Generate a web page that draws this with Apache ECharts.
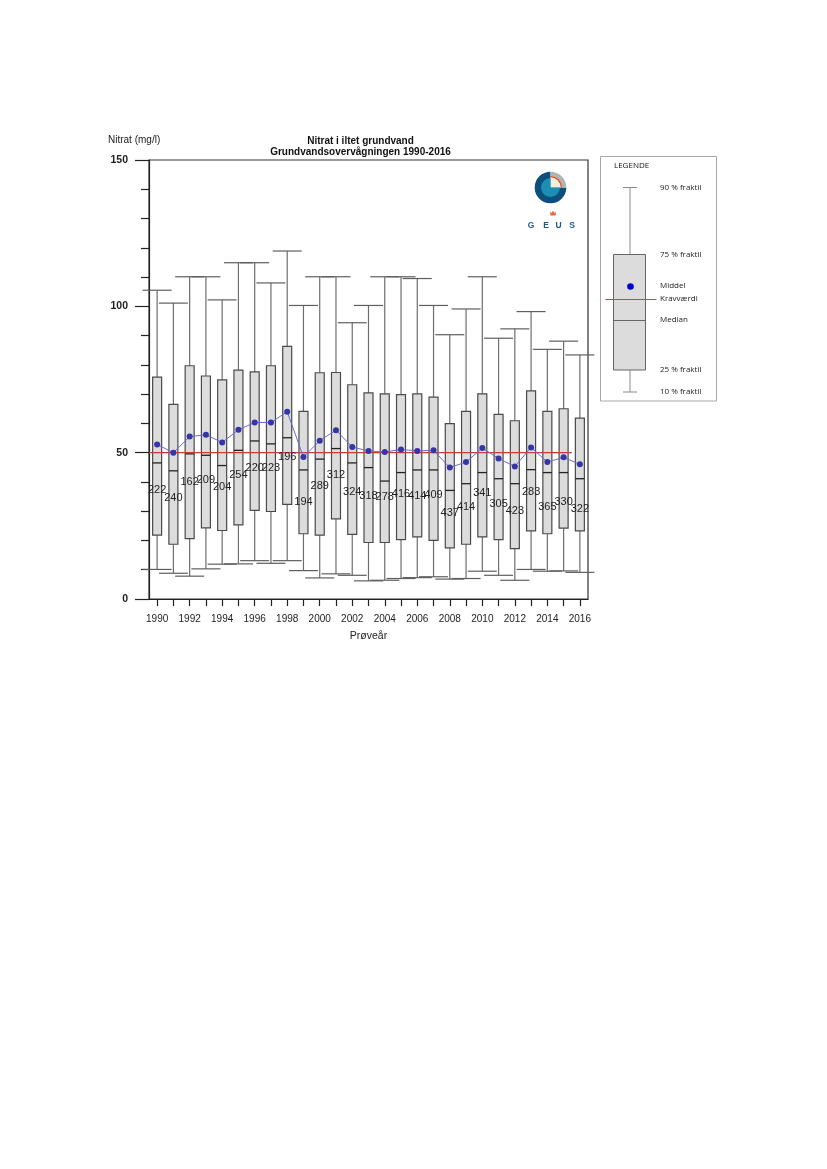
<!DOCTYPE html>
<html>
<head>
<meta charset="utf-8">
<script src="https://cdn.jsdelivr.net/npm/echarts@6/dist/echarts.min.js"></script>
<style>
  html, body { margin: 0; padding: 0; background: #fff; }
  #chart { width: 827px; height: 1169px; }
</style>
</head>
<body>
<div id="chart"></div>
<script>
// ---- Data ----
const years = ['1990','1991','1992','1993','1994','1995','1996','1997','1998','1999','2000','2001','2002','2003','2004','2005','2006','2007','2008','2009','2010','2011','2012','2013','2014','2015','2016'];
const p90 = [105.5,101.1,110.1,110.1,102.2,114.9,114.9,108.0,118.9,100.3,110.1,110.1,94.4,100.3,110.1,110.1,109.5,100.3,90.3,99.1,110.1,89.1,92.3,98.2,85.3,88.1,83.4];
const p75 = [75.8,66.5,79.7,76.2,74.9,78.2,77.6,79.7,86.3,64.1,77.3,77.4,73.2,70.4,70.1,69.8,70.1,69.0,59.9,64.1,70.1,63.1,60.9,71.1,64.1,65.0,61.8];
const median = [46.5,43.8,49.6,49.1,45.6,50.8,54.0,53.0,55.1,44.1,47.8,51.4,46.5,44.9,40.3,43.2,44.1,44.1,37.1,39.4,43.2,41.1,39.4,44.2,43.2,43.2,41.1];
const p25 = [21.8,18.7,20.6,24.3,23.4,25.3,30.3,29.9,32.3,22.3,21.8,27.4,22.1,19.3,19.3,20.3,21.2,20.0,17.5,18.7,21.2,20.3,17.2,23.3,22.3,24.2,23.3];
const p10 = [10.1,8.8,7.8,10.3,11.9,12.0,13.1,12.2,13.1,9.7,7.2,8.6,8.1,6.2,6.4,7.0,7.3,7.6,6.8,7.0,9.5,8.1,6.4,10.1,9.5,9.6,9.1];
const mean = [52.8,50.0,55.5,56.1,53.5,57.8,60.3,60.3,64.0,48.5,54.1,57.7,51.9,50.6,50.2,51.1,50.6,50.8,44.9,46.8,51.6,48.0,45.3,51.8,46.8,48.4,46.0];
const counts = [222,240,162,209,204,254,220,223,196,194,289,312,324,318,278,416,414,409,437,414,341,305,423,283,365,330,322];
const kravvaerdi = 50;
const yTicks = [0, 50, 100, 150];
const titleLines = ['Nitrat i iltet grundvand', 'Grundvandsovervågningen 1990-2016'];
const legendLabels = ['90 % fraktil','75 % fraktil','Middel','Kravværdi','Median','25 % fraktil','10 % fraktil'];

const FONT = 'Liberation Sans, Arial, sans-serif';
const chart = echarts.init(document.getElementById('chart'), null, { renderer: 'canvas' });

const boxData = years.map((y, i) => [i, p10[i], p25[i], median[i], p75[i], p90[i]]);

function renderBox(params, api) {
  const i = api.value(0);
  const x = api.coord([i, 0])[0];
  const Y = v => api.coord([i, v])[1];
  const bw = 9, cw = 29;
  const wStyle = { stroke: '#6e6e6e', lineWidth: 1.2 };
  const yp10 = Y(api.value(1)), yq1 = Y(api.value(2)), ymed = Y(api.value(3)), yq3 = Y(api.value(4)), yp90 = Y(api.value(5));
  return {
    type: 'group',
    children: [
      { type: 'line', shape: { x1: x, y1: yq3, x2: x, y2: yp90 }, style: wStyle },
      { type: 'line', shape: { x1: x, y1: yq1, x2: x, y2: yp10 }, style: wStyle },
      { type: 'line', shape: { x1: x - cw / 2, y1: yp90, x2: x + cw / 2, y2: yp90 }, style: { stroke: '#5e5e5e', lineWidth: 1.2 } },
      { type: 'line', shape: { x1: x - cw / 2, y1: yp10, x2: x + cw / 2, y2: yp10 }, style: { stroke: '#5e5e5e', lineWidth: 1.2 } },
      { type: 'rect', shape: { x: x - bw / 2, y: yq3, width: bw, height: yq1 - yq3 }, style: { fill: '#dcdcdc', stroke: '#4a4a4a', lineWidth: 1.2 } },
      { type: 'line', shape: { x1: x - bw / 2, y1: ymed, x2: x + bw / 2, y2: ymed }, style: { stroke: '#222', lineWidth: 1.3 } }
    ]
  };
}

function renderLimit(params, api) {
  const band = api.size([1, 0])[0];
  const a = api.coord([0, api.value(1)]);
  const b = api.coord([years.length - 2, api.value(1)]);
  return { type: 'line', shape: { x1: a[0] - band / 2, y1: a[1], x2: b[0] + band / 2, y2: b[1] }, style: { stroke: '#c83c3c', lineWidth: 1.2 } };
}

// Logo + legend graphics
const cx = 550.5, cy = 187.5;
const graphics = [
  { type: 'text', left: 108, top: 135, style: { text: 'Nitrat (mg/l)', font: '10px ' + FONT, fill: '#222' } },
  { type: 'text', x: 360.5, y: 141.5, style: { text: titleLines[0], font: 'bold 10px ' + FONT, fill: '#111', align: 'center', verticalAlign: 'middle' } },
  { type: 'text', x: 360.5, y: 152.5, style: { text: titleLines[1], font: 'bold 10px ' + FONT, fill: '#111', align: 'center', verticalAlign: 'middle' } },
  // GEUS logo
  { type: 'sector', shape: { cx, cy, r: 15.8, r0: 0, startAngle: 0, endAngle: Math.PI * 1.5, clockwise: true }, style: { fill: '#0d4f7c' } },
  { type: 'sector', shape: { cx, cy, r: 15.8, r0: 11.5, startAngle: -Math.PI / 2, endAngle: 0, clockwise: true }, style: { fill: '#b3b3b3' } },
  { type: 'sector', shape: { cx, cy, r: 11.5, r0: 10, startAngle: -Math.PI / 2, endAngle: 0, clockwise: true }, style: { fill: '#e0522d' } },
  { type: 'sector', shape: { cx, cy, r: 10, r0: 0, startAngle: -Math.PI / 2, endAngle: 0, clockwise: true }, style: { fill: '#f4efdc' } },
  { type: 'sector', shape: { cx, cy, r: 9.5, r0: 0, startAngle: 0, endAngle: Math.PI * 1.5, clockwise: true }, style: { fill: '#1c8db3' } },
  { type: 'polygon', shape: { points: [[550.3, 215.5], [550.3, 211.5], [551.8, 213], [553, 210.5], [554.2, 213], [555.7, 211.5], [555.7, 215.5]] }, style: { fill: '#e8653f' } },
  { type: 'text', x: 531, y: 225.5, style: { text: 'G', font: 'bold 8.5px ' + FONT, fill: '#1e5a8a', align: 'center', verticalAlign: 'middle' } },
  { type: 'text', x: 546, y: 225.5, style: { text: 'E', font: 'bold 8.5px ' + FONT, fill: '#1e5a8a', align: 'center', verticalAlign: 'middle' } },
  { type: 'text', x: 558.5, y: 225.5, style: { text: 'U', font: 'bold 8.5px ' + FONT, fill: '#1e5a8a', align: 'center', verticalAlign: 'middle' } },
  { type: 'text', x: 572, y: 225.5, style: { text: 'S', font: 'bold 8.5px ' + FONT, fill: '#1e5a8a', align: 'center', verticalAlign: 'middle' } },
  // Legend panel
  { type: 'rect', shape: { x: 600.5, y: 156.5, width: 116, height: 244.5 }, style: { fill: '#fff', stroke: '#a8a8a8', lineWidth: 1 } },
  { type: 'text', x: 614, y: 166, style: { text: 'LEGENDE', font: '8px Open Sans', fill: '#111', verticalAlign: 'middle' } },
  { type: 'line', shape: { x1: 630, y1: 187.5, x2: 630, y2: 254.5 }, style: { stroke: '#8a8a8a', lineWidth: 1 } },
  { type: 'line', shape: { x1: 630, y1: 370, x2: 630, y2: 392 }, style: { stroke: '#8a8a8a', lineWidth: 1 } },
  { type: 'line', shape: { x1: 623, y1: 187.5, x2: 637, y2: 187.5 }, style: { stroke: '#8a8a8a', lineWidth: 1 } },
  { type: 'line', shape: { x1: 623, y1: 392, x2: 637, y2: 392 }, style: { stroke: '#8a8a8a', lineWidth: 1 } },
  { type: 'rect', shape: { x: 613.5, y: 254.5, width: 32, height: 115.5 }, style: { fill: '#dcdcdc', stroke: '#666', lineWidth: 1 } },
  { type: 'line', shape: { x1: 613.5, y1: 320.5, x2: 645.5, y2: 320.5 }, style: { stroke: '#666', lineWidth: 1 } },
  { type: 'circle', shape: { cx: 630.5, cy: 286.5, r: 3.3 }, style: { fill: '#0000cc' } },
  { type: 'line', shape: { x1: 605.5, y1: 299.5, x2: 656.5, y2: 299.5 }, style: { stroke: '#d23c5a', lineWidth: 1 } },
  { type: 'text', x: 660, y: 187.5, style: { text: legendLabels[0], font: '8px Open Sans', fill: '#222', verticalAlign: 'middle' } },
  { type: 'text', x: 660, y: 254.5, style: { text: legendLabels[1], font: '8px Open Sans', fill: '#222', verticalAlign: 'middle' } },
  { type: 'text', x: 660, y: 286, style: { text: legendLabels[2], font: '8px Open Sans', fill: '#222', verticalAlign: 'middle' } },
  { type: 'text', x: 660, y: 298.5, style: { text: legendLabels[3], font: '8px Open Sans', fill: '#222', verticalAlign: 'middle' } },
  { type: 'text', x: 660, y: 319.5, style: { text: legendLabels[4], font: '8px Open Sans', fill: '#222', verticalAlign: 'middle' } },
  { type: 'text', x: 660, y: 369.5, style: { text: legendLabels[5], font: '8px Open Sans', fill: '#222', verticalAlign: 'middle' } },
  { type: 'text', x: 660, y: 391.5, style: { text: legendLabels[6], font: '8px Open Sans', fill: '#222', verticalAlign: 'middle' } }
];

const option = {
  animation: false,
  backgroundColor: '#fff',
  grid: { left: 149, right: 239, top: 160, bottom: 570, show: true, borderColor: '#333', borderWidth: 1.2, backgroundColor: 'transparent' },
  xAxis: {
    type: 'category',
    data: years,
    boundaryGap: true,
    axisLine: { show: true, lineStyle: { color: '#222', width: 1.2 } },
    axisTick: { show: true, alignWithLabel: true, interval: 0, length: 7, lineStyle: { color: '#222', width: 1.2 } },
    axisLabel: { interval: 1, fontSize: 10, fontFamily: FONT, color: '#222', margin: 15 },
    name: 'Prøveår',
    nameLocation: 'middle',
    nameGap: 32,
    nameTextStyle: { fontSize: 10.5, fontFamily: FONT, color: '#222' },
    splitLine: { show: false }
  },
  yAxis: {
    type: 'value',
    min: 0, max: 150, interval: 50,
    axisLine: { show: true, lineStyle: { color: '#222', width: 1.2 } },
    axisTick: { show: true, length: 14, lineStyle: { color: '#222', width: 1.2 } },
    minorTick: { show: true, splitNumber: 5, length: 8, lineStyle: { color: '#222', width: 1.2 } },
    axisLabel: { fontSize: 10.5, fontWeight: 'bold', fontFamily: 'Liberation Sans Narrow, ' + FONT, color: '#222', margin: 21,
      formatter: v => (yTicks.indexOf(v) >= 0 ? String(v) : '') },
    splitLine: { show: false },
    minorSplitLine: { show: false }
  },
  graphic: graphics,
  series: [
    {
      type: 'custom',
      name: 'box',
      renderItem: renderBox,
      data: boxData,
      encode: { x: 0, y: [1, 2, 3, 4, 5] },
      clip: false,
      z: 2
    },
    {
      type: 'custom',
      name: 'krav',
      renderItem: renderLimit,
      data: [[0, kravvaerdi]],
      encode: { x: 0, y: 1 },
      z: 3
    },
    {
      type: 'line',
      name: 'Middel',
      data: mean,
      symbol: 'circle',
      symbolSize: 6,
      itemStyle: { color: '#3535a5' },
      lineStyle: { color: '#6a6ad0', width: 1 },
      z: 4,
      label: {
        show: true,
        position: 'inside',
        offset: [0, 45],
        formatter: p => String(counts[p.dataIndex]),
        fontSize: 11,
        fontFamily: FONT,
        color: '#222'
      }
    }
  ]
};
chart.setOption(option);
</script>
</body>
</html>
